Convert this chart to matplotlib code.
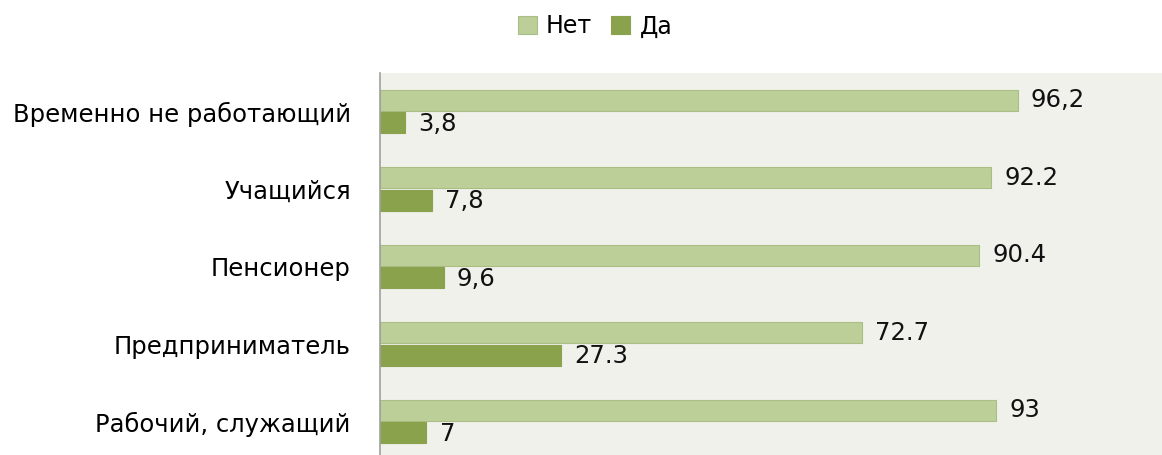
import matplotlib
matplotlib.use("Agg")
import matplotlib.pyplot as plt
import numpy as np

categories = ["Временно не работающий", "Учащийся", "Пенсионер", "Предприниматель", "Рабочий, служащий"]
net_values = [96.2, 92.2, 90.4, 72.7, 93.0]
da_values = [3.8, 7.8, 9.6, 27.3, 7.0]
net_labels = ["96,2", "92.2", "90.4", "72.7", "93"]
da_labels = ["3,8", "7,8", "9,6", "27.3", "7"]

c_net = "#bccf98"
c_da = "#8aa24b"
bg = "#eff1ea"

fig = plt.figure(figsize=(11.62, 4.55), dpi=100)
ax = fig.add_axes([380/1162, -0.012, 782/1162, 0.852])
ax.set_facecolor(bg)

y = np.arange(len(categories))
h = 0.27
ax.barh(y - h/2 - 0.01, net_values, height=h, color=c_net, edgecolor="#a9bd85", linewidth=0.8, label="Нет")
ax.barh(y + h/2 + 0.01, da_values, height=h, color=c_da, edgecolor=c_da, linewidth=0.8, label="Да")

for yi, v, t in zip(y, net_values, net_labels):
    ax.text(v + 2.0, yi - h/2 - 0.01, t, va="center", ha="left", fontsize=17.5, color="#111111")
for yi, v, t in zip(y, da_values, da_labels):
    ax.text(v + 2.0, yi + h/2 + 0.02, t, va="center", ha="left", fontsize=17.5, color="#111111")

ax.set_xlim(0, 118)
ax.set_ylim(len(categories) - 0.5, -0.5)
ax.set_yticks(y)
ax.set_yticklabels(categories, fontsize=17.5)
ax.tick_params(axis="y", length=0, pad=21)
ax.set_xticks([])
for s in ["top", "right", "bottom"]:
    ax.spines[s].set_visible(False)
ax.spines["left"].set_color("#a0a0a0")
ax.spines["left"].set_linewidth(1.2)

fig.legend(loc="upper center", bbox_to_anchor=(0.512, 1.015), ncol=2, frameon=False,
           fontsize=17, handlelength=0.8, handleheight=0.8, columnspacing=0.8, handletextpad=0.4)

fig.savefig("out.png", dpi=100, facecolor="white")
